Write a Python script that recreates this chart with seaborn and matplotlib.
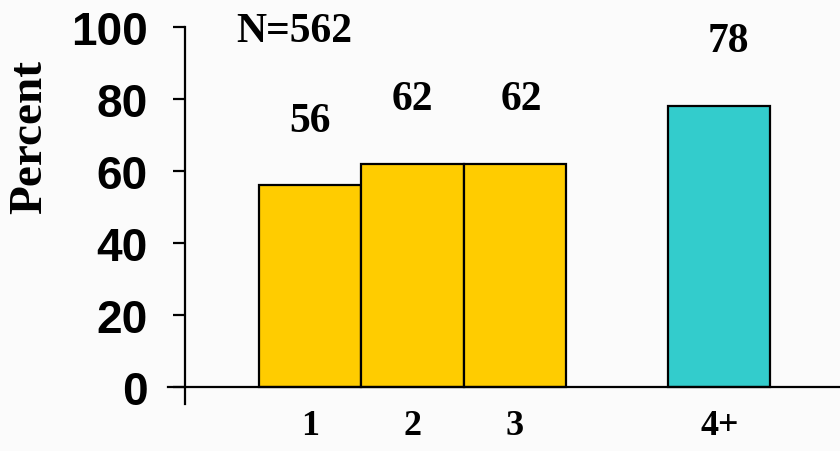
import matplotlib
matplotlib.use("Agg")
import pandas as pd
import seaborn as sns
import matplotlib.pyplot as plt

# values
categories = ["1", "2", "3", "4+"]
percents = [56, 62, 62, 78]
sample_label = "N=562"
bar_colors = {"1": "#FFCC00", "2": "#FFCC00", "3": "#FFCC00", "4+": "#33CCCC"}

# an empty slot between "3" and "4+"
order = ["1", "2", "3", " ", "4+"]

df = pd.DataFrame({"Group": categories, "Percent": percents})

sns.set_style("white")
plt.rcParams["font.family"] = ["Liberation Serif", "DejaVu Serif"]
plt.rcParams["font.weight"] = "bold"
plt.rcParams["text.color"] = "black"
plt.rcParams["xtick.color"] = "black"
plt.rcParams["ytick.color"] = "black"
plt.rcParams["axes.labelcolor"] = "black"

fig = plt.figure(figsize=(8.4, 4.52), dpi=100)
fig.patch.set_facecolor("#fbfbfb")
ax = fig.add_axes([0.2, 0.104, 0.8, 0.834])
ax.set_facecolor("#fbfbfb")

sns.barplot(data=df, x="Group", y="Percent", hue="Group", order=order,
            palette=bar_colors, saturation=1, width=1.0, edgecolor="black",
            linewidth=1.6, legend=False, ax=ax)

# value labels above the bars (slight nudges as in the original)
nudge = [0.0, 0.0, 0.06, 0.09]
for cat, val, dx in zip(categories, percents, nudge):
    ax.text(order.index(cat) + dx, val + 18, str(val), ha="center", va="center",
            fontsize=30, fontweight="bold")

ax.text(-0.156, 98.9, sample_label, ha="center", va="center",
        fontsize=30, fontweight="bold")

ax.set_ylim(-4.7, 100)
ax.set_xlim(-1.39, 5.18)
ax.set_yticks([0, 20, 40, 60, 80, 100])
ax.set_xticks([order.index(c) for c in categories])
ax.set_xticklabels(categories)
ax.tick_params(axis="x", length=0, pad=16, labelsize=26)
ax.tick_params(axis="y", direction="out", length=9, width=1.6, pad=18,
               left=True, labelsize=33, labelfontfamily="Liberation Sans")

ax.set_xlabel("")
ax.set_ylabel("Percent", fontsize=34, fontweight="bold", va="center")
ax.yaxis.set_label_coords(-0.205, 0.711)

for s in ["top", "right"]:
    ax.spines[s].set_visible(False)
ax.spines["left"].set_position(("data", -1.222))
ax.spines["bottom"].set_position(("data", 0))
for s in ["left", "bottom"]:
    ax.spines[s].set_linewidth(1.6)
    ax.spines[s].set_color("black")

fig.savefig("out.png", dpi=100, facecolor=fig.get_facecolor())
